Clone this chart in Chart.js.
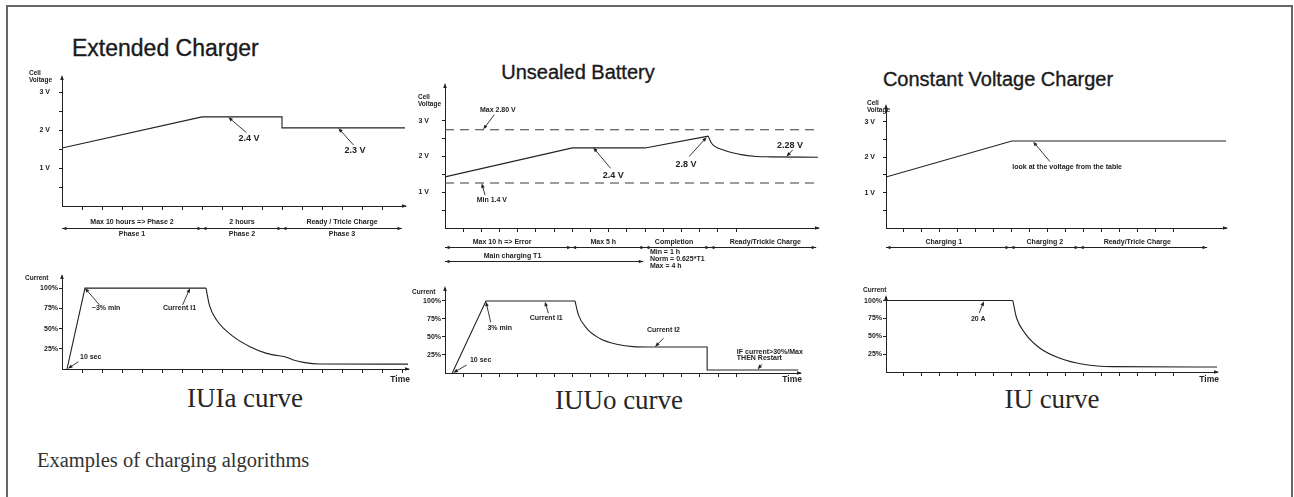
<!DOCTYPE html>
<html>
<head>
<meta charset="utf-8">
<script src="https://cdn.jsdelivr.net/npm/chart.js@4.4.0/dist/chart.umd.min.js"></script>
<style>
html,body{margin:0;padding:0;background:#fff;}
#page{position:relative;width:1294px;height:497px;overflow:hidden;background:#fff;}
canvas.layer{position:absolute;left:0;top:0;}
.frame{position:absolute;left:6px;top:5px;width:1287px;height:560px;border:2px solid #666;box-sizing:border-box;}
.title{position:absolute;font-family:'Liberation Sans',Arial,sans-serif;color:#1a1a1a;line-height:1;white-space:nowrap;-webkit-text-stroke:0.35px #1a1a1a;}
.curve{position:absolute;font-family:'Liberation Serif','Times New Roman',serif;color:#262626;line-height:1;white-space:nowrap;}
</style>
</head>
<body>
<div id="page">
  <div class="frame"></div>
  <div class="title" style="left:72px;top:37px;font-size:23px;">Extended Charger</div>
  <div class="title" style="left:578px;top:62px;font-size:20px;transform:translateX(-50%);">Unsealed Battery</div>
  <div class="title" style="left:998px;top:69px;font-size:20px;transform:translateX(-50%);">Constant Voltage Charger</div>
  <div class="curve" style="left:245px;top:385px;font-size:27px;transform:translateX(-50%);">IUIa curve</div>
  <div class="curve" style="left:619px;top:387px;font-size:27px;transform:translateX(-50%);">IUUo curve</div>
  <div class="curve" style="left:1052px;top:386px;font-size:27px;transform:translateX(-50%);">IU curve</div>
  <div class="curve" style="left:37px;top:450px;font-size:20.5px;color:#333;">Examples of charging algorithms</div>
  <canvas class="layer" id="c1" width="1294" height="497"></canvas>
  <canvas class="layer" id="c2" width="1294" height="497"></canvas>
  <canvas class="layer" id="c3" width="1294" height="497"></canvas>
  <canvas class="layer" id="c4" width="1294" height="497"></canvas>
  <canvas class="layer" id="c5" width="1294" height="497"></canvas>
  <canvas class="layer" id="c6" width="1294" height="497"></canvas>
</div>
<script>
// ---------------- DATA ----------------
// tick positions (time in tick units)
const timeTicks16 = [1,2,3,4,5,6,7,8,9,10,11,12,13,14,15,16];
const timeTicks17 = [1,2,3,4,5,6,7,8,9,10,11,12,13,14,15,16,17];
const voltTicks = [0.5, 1, 1.5, 2, 2.5, 3];
const pctTicks = [25, 50, 75, 100];

// IUIa – Extended Charger
const iuiaVoltTime = [0, 7, 11, 11, 17.15];
const iuiaVolt     = [1.53, 2.35, 2.35, 2.06, 2.06];
const iuiaCurTime  = [0.25, 1.15, 7.2];
const iuiaCur      = [0, 100, 100];
const iuiaDecayTime = [7.2, 7.37, 7.73, 8.57, 9.4, 10.23, 11.15];
const iuiaDecay     = [100, 79, 60.5, 40, 27.6, 19.3, 15.2];
const iuiaTailTime  = [11.15, 11.57, 12.07, 12.9, 17.3];
const iuiaTail      = [15.2, 11.1, 8.2, 6.2, 6];
const iuiaPhaseBounds = [0, 7, 11, 17];
const iuiaPhaseAt     = [3.5, 9, 14];
const iuiaPhaseTop    = ['Max 10 hours => Phase 2', '2 hours', 'Ready / Tricle Charge'];
const iuiaPhaseBottom = ['Phase 1', 'Phase 2', 'Phase 3'];

// IUUo – Unsealed Battery
const iuuoVoltTime  = [0, 7, 11, 14.47];
const iuuoVolt      = [1.43, 2.24, 2.24, 2.57];
const iuuoRelaxTime = [14.47, 14.65, 15.3, 16.2, 17.1, 17.85, 20.5];
const iuuoRelax     = [2.57, 2.37, 2.18, 2.06, 2.0, 1.99, 1.98];
const iuuoLimitTime = [0, 20.5];
const iuuoMaxV      = [2.75, 2.75];
const iuuoMinV      = [1.26, 1.26];
const iuuoCurTime   = [0.4, 2.25, 7.14];
const iuuoCur       = [0, 100, 100];
const iuuoDecayTime = [7.14, 7.33, 7.78, 8.5, 9.43, 10.35, 11.45];
const iuuoDecay     = [100, 80.6, 62, 48, 40, 36.6, 36];
const iuuoStepTime  = [11.45, 14.4, 14.4, 19.4];
const iuuoStep      = [36, 36, 4.2, 4.2];
const iuuoPhaseBounds = [0, 6.96, 10.99, 14.56, 20.4];
const iuuoPhaseAt     = [3.14, 8.7, 12.59, 17.6];
const iuuoPhaseTop    = ['Max 10 h => Error', 'Max 5 h', 'Completion', 'Ready/Trickle Charge'];
const iuuoMainBounds  = [0, 10.9];
const iuuoMainAt      = [3.71];
const iuuoMainLabel   = ['Main charging T1'];

// IU – Constant Voltage Charger
const iuVoltTime  = [0, 7, 18.9];
const iuVolt      = [1.44, 2.46, 2.46];
const iuCurTime   = [0, 7.05];
const iuCur       = [100, 100];
const iuDecayTime = [7.05, 7.26, 7.72, 8.56, 9.67, 10.96, 12.63, 18.4];
const iuDecay     = [100, 75.6, 54.5, 33.3, 19.2, 10.8, 7.5, 7];
const iuPhaseBounds = [0, 6.89, 10.74, 17.85];
const iuPhaseAt     = [3.21, 8.83, 13.97];
const iuPhaseTop    = ['Charging 1', 'Charging 2', 'Ready/Tricle Charge'];

// ---------------- DRAWING ----------------
const INK = '#222';
const FONT = "'Liberation Sans', Arial, sans-serif";
const W = 1294, H = 497, YW = 30, XH = 10;
Chart.defaults.font.family = FONT;

function pts(xs, ys) { return xs.map((x, i) => ({ x: x, y: ys[i] })); }
function lineSet(xs, ys, extra) {
  return Object.assign({ data: pts(xs, ys), borderColor: INK, borderWidth: 1.1, pointRadius: 0,
    fill: false, tension: 0 }, extra || {});
}
const smooth = { cubicInterpolationMode: 'monotone' };
const dashed = { borderDash: [9, 6], borderColor: '#3a3a3a' };

function arrowHead(ctx, x, y, ux, uy, L, Wd) {
  ctx.beginPath();
  ctx.moveTo(x, y);
  ctx.lineTo(x - ux * L - uy * Wd, y - uy * L + ux * Wd);
  ctx.lineTo(x - ux * L + uy * Wd, y - uy * L - ux * Wd);
  ctx.closePath();
  ctx.fill();
}

const notesPlugin = {
  id: 'notes',
  afterDraw(chart) {
    const o = chart.options.plugins.notes;
    if (!o) return;
    const ctx = chart.ctx, xs = chart.scales.x, ys = chart.scales.y, a = chart.chartArea;
    const X = v => xs.getPixelForValue(v), Y = v => ys.getPixelForValue(v);
    ctx.save();
    ctx.fillStyle = INK; ctx.strokeStyle = INK; ctx.lineWidth = 1;
    // axis arrowheads
    arrowHead(ctx, a.left, a.top - 2, 0, -1, 5, 1.8);
    arrowHead(ctx, a.right + 2, a.bottom, 1, 0, 5, 1.8);
    // axis label
    if (o.axisLabel) {
      ctx.font = 'bold 6.5px ' + FONT; ctx.textAlign = 'left'; ctx.textBaseline = 'middle';
      o.axisLabel.lines.forEach((s, i) => ctx.fillText(s, a.left + o.axisLabel.dx, a.top + o.axisLabel.dy + i * 7));
    }
    ctx.textBaseline = 'middle';
    if (o.timeLabel) {
      ctx.font = 'bold 8.5px ' + FONT; ctx.textAlign = 'right';
      ctx.fillText('Time', a.right + 2, a.bottom + o.timeLabel.dy);
    }
    (o.texts || []).forEach(t => {
      ctx.font = 'bold ' + (t.size || 7) + 'px ' + FONT;
      ctx.textAlign = t.align || 'center';
      const py = (t.dy !== undefined) ? a.bottom + t.dy : Y(t.y);
      ctx.fillText(t.text, X(t.x), py);
    });
    ctx.lineWidth = 0.9;
    (o.arrows || []).forEach(r => {
      const x1 = X(r[0]), y1 = Y(r[1]), x2 = X(r[2]), y2 = Y(r[3]);
      const len = Math.hypot(x2 - x1, y2 - y1), ux = (x2 - x1) / len, uy = (y2 - y1) / len;
      ctx.beginPath(); ctx.moveTo(x1, y1); ctx.lineTo(x2 - ux * 2, y2 - uy * 2); ctx.stroke();
      arrowHead(ctx, x2, y2, ux, uy, 4.5, 1.8);
    });
    ctx.lineWidth = 1;
    (o.phases || []).forEach(ph => {
      const yy = Math.round(a.bottom + ph.lineDy) + 0.5;
      const b = ph.bounds.map(X);
      ctx.beginPath(); ctx.moveTo(b[0], yy); ctx.lineTo(b[b.length - 1], yy); ctx.stroke();
      for (let i = 0; i < b.length - 1; i++) {
        arrowHead(ctx, b[i] + 0.5, yy, -1, 0, 4, 1.7);
        arrowHead(ctx, b[i + 1] - 0.5, yy, 1, 0, 4, 1.7);
      }
      (ph.rows || []).forEach(r => {
        ctx.font = 'bold 7px ' + FONT; ctx.textAlign = 'center';
        r.labels.forEach((s, i) => ctx.fillText(s, X(r.at[i]), a.bottom + r.dy));
      });
    });
    ctx.restore();
  }
};

function makePanel(id, p) {
  return new Chart(document.getElementById(id), {
    type: 'line',
    data: { datasets: p.datasets },
    options: {
      responsive: false, animation: false, events: [],
      layout: { padding: { left: p.area.l - YW, right: W - p.area.r, top: p.area.t, bottom: H - p.area.b - XH } },
      plugins: { legend: { display: false }, tooltip: { enabled: false }, title: { display: false }, notes: p.notes },
      scales: {
        x: {
          type: 'linear', min: 0, max: p.xMax,
          afterFit: s => { s.height = XH; },
          afterBuildTicks: s => { s.ticks = p.xTicks.map(v => ({ value: v })); },
          ticks: { autoSkip: false, maxRotation: 0, callback: () => '', font: { size: 6 } },
          grid: { drawOnChartArea: false, drawTicks: true, tickLength: 4, color: INK, lineWidth: 1 },
          border: { display: true, color: INK, width: 1 }
        },
        y: {
          type: 'linear', min: 0, max: p.yMax,
          afterFit: s => { s.width = YW; },
          afterBuildTicks: s => { s.ticks = p.yTicks.map(v => ({ value: v })); },
          ticks: { autoSkip: false, callback: p.yLabel, padding: p.yPad, color: INK,
                   font: { size: 7, weight: 'bold', family: FONT } },
          grid: { drawOnChartArea: false, drawTicks: true, tickLength: 3, color: INK, lineWidth: 1 },
          border: { display: true, color: INK, width: 1 }
        }
      }
    },
    plugins: [notesPlugin]
  });
}

const voltLabel = v => Number.isInteger(v) ? v + ' V' : '';
const pctLabel = v => v + '%';

// Panel 1: Extended Charger voltage
makePanel('c1', {
  area: { l: 62, r: 405, t: 77, b: 206 }, xMax: 17.15, yMax: 3.4,
  xTicks: timeTicks16, yTicks: voltTicks, yLabel: voltLabel, yPad: 9,
  datasets: [ lineSet(iuiaVoltTime, iuiaVolt) ],
  notes: {
    axisLabel: { lines: ['Cell', 'Voltage'], dx: -33, dy: -4 },
    texts: [ { text: '2.4 V', x: 9.35, y: 1.79, size: 9 }, { text: '2.3 V', x: 14.65, y: 1.46, size: 9 } ],
    arrows: [ [9.23, 1.93, 8.32, 2.34], [14.57, 1.61, 13.82, 2.05] ],
    phases: [ { bounds: iuiaPhaseBounds, lineDy: 22.3,
      rows: [ { labels: iuiaPhaseTop, at: iuiaPhaseAt, dy: 15.7 }, { labels: iuiaPhaseBottom, at: iuiaPhaseAt, dy: 28.3 } ] } ]
  }
});

// Panel 2: Extended Charger current
makePanel('c2', {
  area: { l: 62, r: 408, t: 276, b: 369 }, xMax: 17.3, yMax: 115,
  xTicks: timeTicks17, yTicks: pctTicks, yLabel: pctLabel, yPad: 1,
  datasets: [ lineSet(iuiaCurTime, iuiaCur), lineSet(iuiaDecayTime, iuiaDecay, smooth), lineSet(iuiaTailTime, iuiaTail, smooth) ],
  notes: {
    axisLabel: { lines: ['Current'], dx: -37, dy: 2 },
    timeLabel: { dy: 11 },
    texts: [ { text: '~3% min', x: 1.49, y: 75.2, align: 'left' }, { text: 'Current I1', x: 5.05, y: 75.2, align: 'left' },
             { text: '10 sec', x: 0.9, y: 14.5, align: 'left' } ],
    arrows: [ [1.87, 79.3, 1.15, 100], [6.03, 79.3, 6.4, 100], [0.82, 9, 0.3, 0.5] ]
  }
});

// Panel 3: Unsealed Battery voltage
makePanel('c3', {
  area: { l: 445, r: 818, t: 85, b: 228 }, xMax: 20.5, yMax: 4,
  xTicks: timeTicks16, yTicks: voltTicks, yLabel: voltLabel, yPad: 13,
  datasets: [ lineSet(iuuoVoltTime, iuuoVolt), lineSet(iuuoRelaxTime, iuuoRelax, smooth),
              lineSet(iuuoLimitTime, iuuoMaxV, dashed), lineSet(iuuoLimitTime, iuuoMinV, dashed) ],
  notes: {
    axisLabel: { lines: ['Cell', 'Voltage'], dx: -27, dy: 12 },
    texts: [ { text: 'Max 2.80 V', x: 1.92, y: 3.31, align: 'left' }, { text: 'Min 1.4 V', x: 1.74, y: 0.78, align: 'left' },
             { text: '2.4 V', x: 9.25, y: 1.46, size: 9 }, { text: '2.8 V', x: 13.24, y: 1.78, size: 9 },
             { text: '2.28 V', x: 18.96, y: 2.32, size: 9 },
             { text: 'Min = 1 h', x: 11.26, dy: 23.7, align: 'left' },
             { text: 'Norm = 0.625*T1', x: 11.26, dy: 31, align: 'left' },
             { text: 'Max = 4 h', x: 11.26, dy: 38, align: 'left' } ],
    arrows: [ [2.71, 3.17, 2.1, 2.76], [2.2, 0.92, 2.02, 1.25], [9.1, 1.67, 8.15, 2.25],
              [13.42, 2.0, 14.38, 2.54], [19.1, 2.18, 18.77, 2.0] ],
    phases: [ { bounds: iuuoPhaseBounds, lineDy: 19.3, rows: [ { labels: iuuoPhaseTop, at: iuuoPhaseAt, dy: 13.7 } ] },
              { bounds: iuuoMainBounds, lineDy: 32.7, rows: [ { labels: iuuoMainLabel, at: iuuoMainAt, dy: 28 } ] } ]
  }
});

// Panel 4: Unsealed Battery current
makePanel('c4', {
  area: { l: 445, r: 800, t: 288, b: 373 }, xMax: 19.5, yMax: 118,
  xTicks: timeTicks16, yTicks: pctTicks, yLabel: pctLabel, yPad: 1,
  datasets: [ lineSet(iuuoCurTime, iuuoCur), lineSet(iuuoDecayTime, iuuoDecay, smooth), lineSet(iuuoStepTime, iuuoStep) ],
  notes: {
    axisLabel: { lines: ['Current'], dx: -33, dy: 4 },
    timeLabel: { dy: 7 },
    texts: [ { text: '3% min', x: 2.33, y: 62.9, align: 'left' }, { text: 'Current I1', x: 5.56, y: 76 },
             { text: 'Current I2', x: 12.0, y: 59.7 }, { text: '10 sec', x: 1.37, y: 18, align: 'left' },
             { text: 'IF current>30%/Max', x: 16.03, y: 29.6, align: 'left' },
             { text: 'THEN Restart', x: 16.03, y: 21.3, align: 'left' } ],
    arrows: [ [2.51, 70.4, 2.25, 99], [5.68, 82.9, 5.49, 99], [12.0, 48.2, 11.54, 36.5],
              [1.19, 11.1, 0.46, 0.5], [17.4, 12.1, 17.18, 5.2] ]
  }
});

// Panel 5: Constant Voltage Charger voltage
makePanel('c5', {
  area: { l: 886, r: 1226, t: 106, b: 228 }, xMax: 18.9, yMax: 3.45,
  xTicks: timeTicks16, yTicks: voltTicks, yLabel: voltLabel, yPad: 8,
  datasets: [ lineSet(iuVoltTime, iuVolt) ],
  notes: {
    axisLabel: { lines: ['Cell', 'Voltage'], dx: -19, dy: -3 },
    texts: [ { text: 'look at the voltage from the table', x: 10.07, y: 1.72 } ],
    arrows: [ [9.11, 1.88, 8.18, 2.44] ],
    phases: [ { bounds: iuPhaseBounds, lineDy: 19.3, rows: [ { labels: iuPhaseTop, at: iuPhaseAt, dy: 13.7 } ] } ]
  }
});

// Panel 6: Constant Voltage Charger current
makePanel('c6', {
  area: { l: 886, r: 1217, t: 297, b: 372 }, xMax: 18.4, yMax: 105,
  xTicks: timeTicks16, yTicks: pctTicks, yLabel: pctLabel, yPad: 1,
  datasets: [ lineSet(iuCurTime, iuCur), lineSet(iuDecayTime, iuDecay, smooth) ],
  notes: {
    axisLabel: { lines: ['Current'], dx: -23, dy: -7 },
    timeLabel: { dy: 8 },
    texts: [ { text: '20 A', x: 5.13, y: 74.2 } ],
    arrows: [ [5.18, 82.6, 5.44, 99] ]
  }
});
</script>
</body>
</html>
